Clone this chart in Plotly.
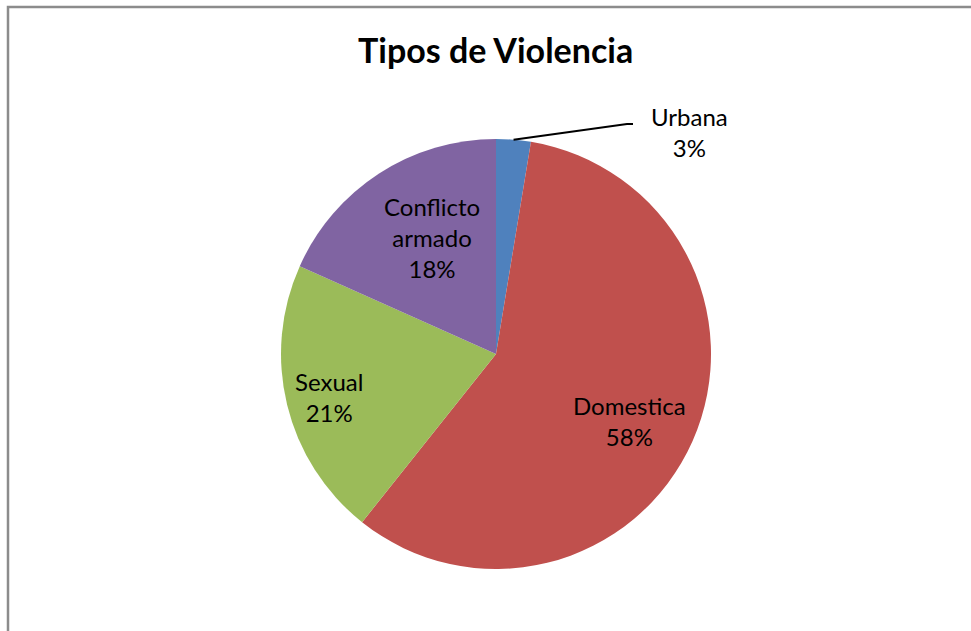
import math
import plotly.graph_objects as go

labels = ["Urbana", "Domestica", "Sexual", "Conflicto armado"]
values = [2.6, 58.1, 21.0, 18.3]
label_text = ["Urbana", "Domestica", "Sexual", "Conflicto<br>armado"]
colors = ["#4F81BD", "#C0504D", "#9BBB59", "#8064A2"]
title = "Tipos de Violencia"

W, H = 971, 631
cx, cy, R = 496, 354, 215
FONT = "Lato, Carlito, Calibri, sans-serif"
LSIZE = 24

fig = go.Figure(go.Pie(
    labels=labels, values=values, sort=False, direction="clockwise", rotation=0,
    marker=dict(colors=colors, line=dict(width=0)),
    textinfo="none", hoverinfo="label+percent", showlegend=False,
    domain=dict(x=[(cx - R) / W, (cx + R) / W],
                y=[(H - cy - R) / H, (H - cy + R) / H]),
))

total = sum(values)
radial = [None, 0.71, 0.80, 0.62]
offsets = [(0, 0), (-6, 5), (0, 2), (8, -5)]
ann = []
shapes = []
cum = 0
for i, v in enumerate(values):
    mid = (cum + v / 2) / total * 2 * math.pi
    cum += v
    pct = f"{round(v / total * 100)}%"
    if radial[i] is None:
        sx, sy = cx + R * math.sin(mid), cy - R * math.cos(mid)
        lx, ly = 689, 132
        ann.append(dict(x=lx / W, y=1 - ly / H, xref="paper", yref="paper",
                        xanchor="center", yanchor="middle",
                        text=f"{label_text[i]}<br>{pct}", showarrow=False,
                        font=dict(family=FONT, size=LSIZE, color="#000")))
        path = f"M {sx/W} {1-sy/H} L {627/W} {1-124/H} L {633/W} {1-124/H}"
        shapes.append(dict(type="path", xref="paper", yref="paper", path=path,
                           line=dict(color="#000", width=2)))
    else:
        r = radial[i] * R
        x, y = cx + r * math.sin(mid), cy - r * math.cos(mid)
        x += offsets[i][0]
        y += offsets[i][1]
        ann.append(dict(x=x / W, y=1 - y / H, xref="paper", yref="paper",
                        xanchor="center", yanchor="middle",
                        text=f"{label_text[i]}<br>{pct}", showarrow=False,
                        font=dict(family=FONT, size=LSIZE, color="#000")))

ann.append(dict(x=495 / W, y=1 - 49 / H, xref="paper", yref="paper", text=f"<b>{title}</b>",
                xanchor="center", yanchor="middle",
                showarrow=False, font=dict(family=FONT, size=34, color="#000")))

shapes.append(dict(type="rect", xref="paper", yref="paper",
                   x0=8 / W, y0=-0.05, x1=1.05, y1=1 - 7 / H,
                   line=dict(color="#8C8C8C", width=2.5)))

fig.update_layout(width=W, height=H, margin=dict(l=0, r=0, t=0, b=0),
                  paper_bgcolor="white", plot_bgcolor="white",
                  annotations=ann, shapes=shapes)
fig.write_html("out.html")
